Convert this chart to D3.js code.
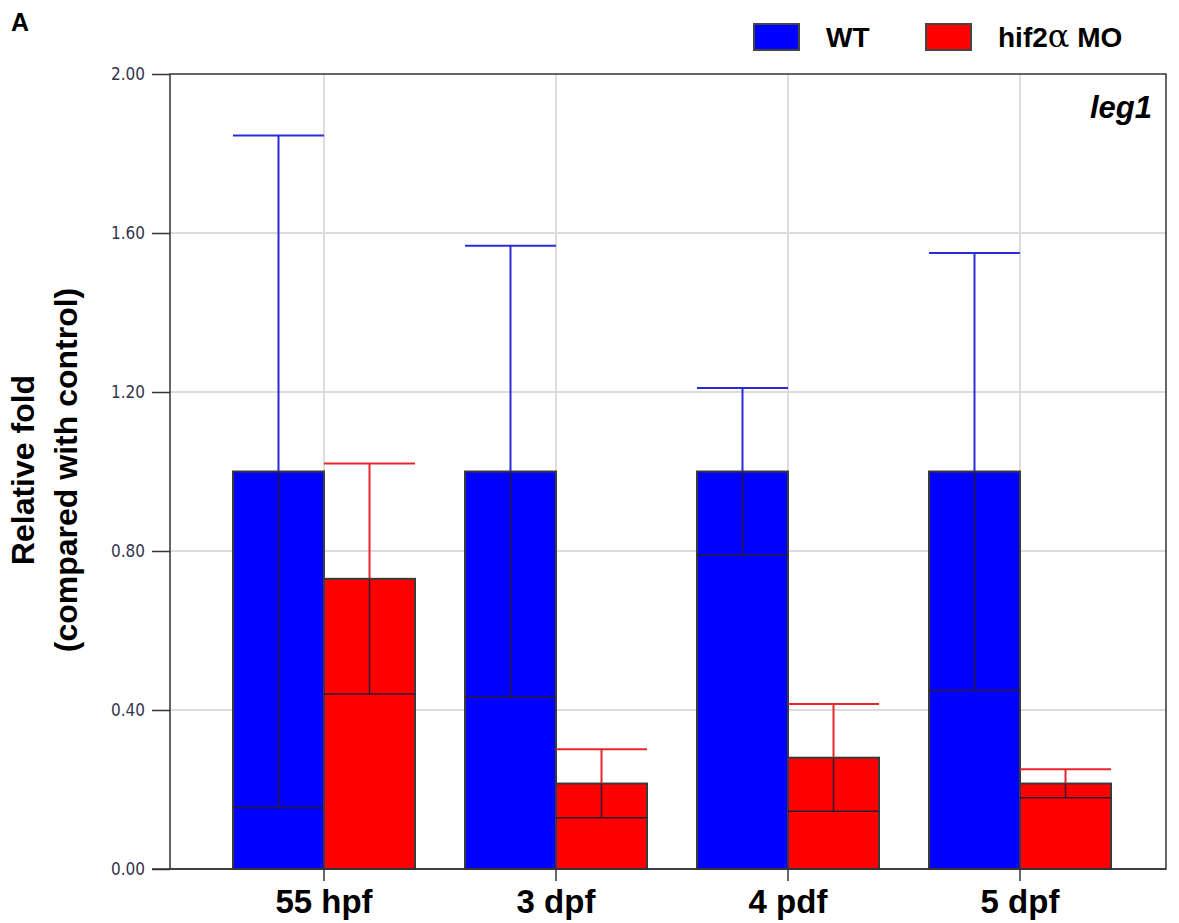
<!DOCTYPE html>
<html>
<head>
<meta charset="utf-8">
<script src="https://cdn.jsdelivr.net/npm/d3@7"></script>
<style>
  body { margin: 0; background: #fff; }
  svg { display: block; }
</style>
</head>
<body>
<div id="container"></div>
<script>
// values (mean and SD, relative fold)
const categories = ["55 hpf", "3 dpf", "4 pdf", "5 dpf"];
const wtMean = [1.0, 1.0, 1.0, 1.0];
const wtErr = [0.845, 0.568, 0.21, 0.55];
const moMean = [0.73, 0.215, 0.28, 0.215];
const moErr = [0.29, 0.086, 0.135, 0.036];
const yTicks = [0, 0.4, 0.8, 1.2, 1.6, 2.0];
const seriesNames = ["WT", "hif2\u03b1 MO"];

const width = 1179, height = 923;
const plot = { left: 170, right: 1166, top: 74, bottom: 869 };

const svg = d3.select("#container").append("svg")
    .attr("width", width)
    .attr("height", height);

const y = d3.scaleLinear().domain([0, 2]).range([plot.bottom, plot.top]);
const x = d3.scaleBand().domain(categories).range([208, 1136]);
const barW = 91;

// gridlines
svg.append("g")
    .selectAll("line")
    .data(yTicks.filter(d => d > 0 && d < 2))
    .join("line")
    .attr("x1", plot.left).attr("x2", plot.right)
    .attr("y1", d => y(d)).attr("y2", d => y(d))
    .attr("stroke", "#dcdcdc").attr("stroke-width", 2);

svg.append("g")
    .selectAll("line")
    .data(categories)
    .join("line")
    .attr("x1", d => x(d) + x.bandwidth() / 2).attr("x2", d => x(d) + x.bandwidth() / 2)
    .attr("y1", plot.top).attr("y2", plot.bottom)
    .attr("stroke", "#dcdcdc").attr("stroke-width", 2);

// frame
svg.append("rect")
    .attr("x", plot.left).attr("y", plot.top)
    .attr("width", plot.right - plot.left).attr("height", plot.bottom - plot.top)
    .attr("fill", "none").attr("stroke", "#333").attr("stroke-width", 1.5);

// y axis
const yAxis = svg.append("g")
    .attr("transform", `translate(${plot.left},0)`)
    .call(d3.axisLeft(y).tickValues(yTicks).tickFormat(d3.format(".2f")).tickSize(18).tickPadding(7));
yAxis.select(".domain").remove();
yAxis.selectAll(".tick line").attr("stroke", "#333").attr("stroke-width", 1.5);
yAxis.selectAll(".tick text")
    .attr("fill", "#34344e")
    .attr("font-size", 17)
    .attr("font-family", "'DejaVu Sans Condensed', 'DejaVu Sans', sans-serif");

const series = [
    { name: seriesNames[0], mean: wtMean, err: wtErr, fill: "#0000ff", whisker: "#2a2ad8", off: -barW },
    { name: seriesNames[1], mean: moMean, err: moErr, fill: "#ff0000", whisker: "#e8262a", off: 0 }
];

const center = c => x(c) + x.bandwidth() / 2;

series.forEach(s => {
    const g = svg.append("g");
    const rows = categories.map((c, i) => ({ c, m: s.mean[i], e: s.err[i] }));

    g.selectAll("rect")
        .data(rows)
        .join("rect")
        .attr("x", d => center(d.c) + s.off)
        .attr("y", d => y(d.m))
        .attr("width", barW)
        .attr("height", d => y(0) - y(d.m))
        .attr("fill", s.fill)
        .attr("stroke", "#3a3a3a")
        .attr("stroke-width", 2);

    // whisker above the bar, in series colour
    g.selectAll("line.up")
        .data(rows)
        .join("line")
        .attr("class", "up")
        .attr("x1", d => center(d.c) + s.off + barW / 2).attr("x2", d => center(d.c) + s.off + barW / 2)
        .attr("y1", d => y(d.m + d.e)).attr("y2", d => y(d.m))
        .attr("stroke", s.whisker).attr("stroke-width", 2);
    g.selectAll("line.capup")
        .data(rows)
        .join("line")
        .attr("class", "capup")
        .attr("x1", d => center(d.c) + s.off).attr("x2", d => center(d.c) + s.off + barW)
        .attr("y1", d => y(d.m + d.e)).attr("y2", d => y(d.m + d.e))
        .attr("stroke", s.whisker).attr("stroke-width", 2);

    // part inside the bar, dark
    g.selectAll("line.down")
        .data(rows)
        .join("line")
        .attr("class", "down")
        .attr("x1", d => center(d.c) + s.off + barW / 2).attr("x2", d => center(d.c) + s.off + barW / 2)
        .attr("y1", d => y(d.m)).attr("y2", d => y(d.m - d.e))
        .attr("stroke", "#2a1a30").attr("stroke-width", 1.5);
    g.selectAll("line.capdown")
        .data(rows)
        .join("line")
        .attr("class", "capdown")
        .attr("x1", d => center(d.c) + s.off).attr("x2", d => center(d.c) + s.off + barW)
        .attr("y1", d => y(d.m - d.e)).attr("y2", d => y(d.m - d.e))
        .attr("stroke", "#2a1a30").attr("stroke-width", 1.5);
});

// x axis
svg.append("line")
    .attr("x1", plot.left - 18).attr("x2", plot.right)
    .attr("y1", plot.bottom).attr("y2", plot.bottom)
    .attr("stroke", "#333").attr("stroke-width", 1.5);

const xg = svg.append("g");
xg.selectAll("line")
    .data(categories)
    .join("line")
    .attr("x1", center).attr("x2", center)
    .attr("y1", plot.bottom).attr("y2", plot.bottom + 12)
    .attr("stroke", "#333").attr("stroke-width", 1.5);
xg.selectAll("text")
    .data(categories)
    .join("text")
    .attr("x", center)
    .attr("y", 913)
    .attr("text-anchor", "middle")
    .style("font", "bold 33px 'Liberation Sans', Arial, sans-serif")
    .text(d => d);

// y title
const yt = svg.append("text")
    .attr("transform", "translate(0,470) rotate(-90)")
    .attr("text-anchor", "middle")
    .style("font", "bold 32px 'Liberation Sans', Arial, sans-serif");
yt.append("tspan").attr("x", 0).attr("y", 34).text("Relative fold");
yt.append("tspan").attr("x", 0).attr("y", 77).text("(compared with control)");

// panel letter
svg.append("text")
    .attr("x", 11).attr("y", 31)
    .attr("font-size", 25)
    .attr("font-weight", "bold")
    .attr("font-family", "'Liberation Sans', Arial, sans-serif")
    .text("A");

// gene label
svg.append("text")
    .attr("x", 1152).attr("y", 118)
    .attr("text-anchor", "end")
    .style("font", "italic bold 31px 'Liberation Sans', Arial, sans-serif")
    .text("leg1");

// legend
const legend = svg.append("g");
const legX = [754, 926];
series.forEach((s, i) => {
    legend.append("rect")
        .attr("x", legX[i]).attr("y", 24)
        .attr("width", 45).attr("height", 26)
        .attr("fill", s.fill)
        .attr("stroke", "#444").attr("stroke-width", 2);
    const t = legend.append("text")
        .attr("x", legX[i] + 72).attr("y", 47)
        .style("font", "bold 28px 'Liberation Sans', Arial, sans-serif");
    // alpha is set in a serif face like the original figure
    s.name.split(/(\u03b1)/).forEach(part => {
        if (!part) return;
        const sp = t.append("tspan").text(part);
        if (part === "\u03b1") sp.style("font", "32px 'DejaVu Serif', serif");
    });
});
</script>
</body>
</html>
